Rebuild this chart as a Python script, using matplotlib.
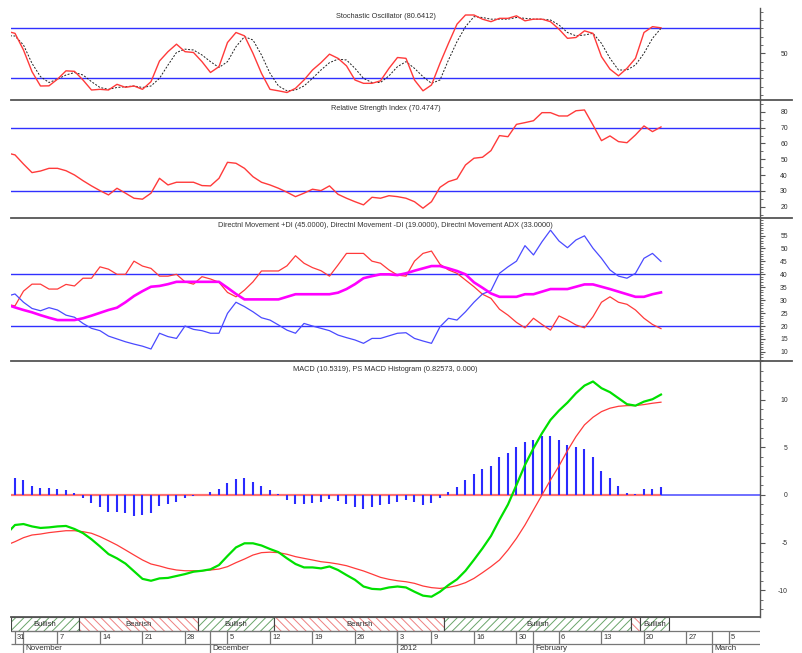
import numpy as np
from matplotlib import pyplot as plt
from matplotlib import rcParams
from matplotlib import font_manager as fontm
from matplotlib import transforms
from matplotlib.lines import Line2D
from matplotlib.patches import Rectangle
from matplotlib.ticker import MultipleLocator, FixedLocator, FuncFormatter

# narrow font looks closest to the original bitmap font
NAMES = {f.name for f in fontm.fontManager.ttflist}
if 'Liberation Sans Narrow' in NAMES:
  FONT, SCALE = 'Liberation Sans Narrow', 1.0
else:
  FONT, SCALE = 'Liberation Sans', 0.82

DARK = '#333333'
GREY = '#555555'
RULE = '#3030ff'
RED = '#ff3a3a'

rcParams.update({
  'font.family': FONT,
  'axes.linewidth': 1.0,
  'axes.edgecolor': GREY,
  'ytick.color': GREY,
  'ytick.labelcolor': DARK,
  'ytick.labelsize': 6 * SCALE,
  'hatch.linewidth': 0.7,
})

# trading-day index, -1 is the session just before the window (Oct 31 = 0)
days = np.arange(-1, 77)
hist_days = days[1:]

stoch_k = [76.6, 74, 54, 28, 10.8, 11, 19, 29, 28.4, 18, 6, 6.8, 6, 12.8, 9.2, 10.8, 6.8,
           16, 40.8, 52, 61, 52, 51, 40, 27, 34, 63, 75, 71, 50, 26, 6.8, 5, 3, 8, 18, 30,
           38.8, 49, 44, 35, 18, 14, 14, 17, 32, 45, 44, 18, 5, 12, 38, 62, 85, 96, 96, 91,
           88, 92, 92, 95, 89, 91, 91, 88, 79, 68, 69, 77, 74, 46, 31, 23, 32, 44, 75, 82, 80.64]
stoch_d = [71.2, 70.8, 60, 38, 22, 15, 19, 24, 27, 24, 16, 9, 6.8, 9, 10, 10.8, 9, 10.8, 20,
           36, 51, 55, 54, 48, 40, 33, 40, 58, 70, 66, 48, 26, 10.8, 5, 6, 10.8, 20, 30, 38.8,
           43, 42, 32, 20, 15, 15, 23, 34, 40, 32, 22, 14, 18, 42, 64, 82, 94, 93, 91, 91, 91,
           93, 92, 91, 91, 90, 84, 75, 71, 72, 74, 62, 44, 30, 30, 36, 50, 68, 80]
rsi = [54.1, 52.8, 47, 41.6, 42.6, 44.3, 44.3, 42.8, 40.1, 36.5, 33.2, 30.2, 27.5, 31.7, 28.6,
       25.4, 24.8, 28.6, 38, 33.8, 35.5, 35.5, 35.5, 33.4, 33.2, 38, 48.1, 47.5, 44.3, 39, 35.5,
       33.8, 31.7, 29.2, 26.4, 28.6, 31.1, 30.2, 33.2, 27.9, 25.4, 23.2, 21.2, 26, 25.4, 27,
       26.4, 25.4, 23.2, 19.1, 23.2, 32.3, 35.9, 37.6, 46.4, 50.7, 51.3, 55.5, 65, 64.3, 72.1,
       73.2, 74.4, 79.5, 79.5, 77.4, 77.4, 80.7, 81.2, 71.7, 61.8, 64.8, 61.2, 60.5, 65.4,
       71.1, 67.5, 70.47]
plus_di = [31.5, 32.4, 29.2, 26.8, 25.9, 27.1, 26.2, 24.2, 23.4, 21, 19.1, 18.2, 16.1, 15, 13.9,
           13, 12.2, 11.1, 17.2, 15.9, 15.2, 20, 18.7, 18.2, 17.2, 17.2, 24.9, 29.2, 27.5, 25.5,
           23.2, 22.3, 20.4, 18.4, 17.2, 21, 20, 19.1, 18.2, 16.5, 15.5, 14.6, 13.3, 15.2, 15.2,
           16.2, 17.2, 17.4, 15.2, 14.2, 13.3, 19.7, 23, 22.3, 25.5, 29.2, 32.4, 33.7, 40.4, 42.9,
           45.1, 51.1, 47.5, 52.6, 57.1, 52.9, 50.3, 53.3, 54.9, 50.1, 46.2, 41.7, 39.3, 38.5,
           40.4, 46.2, 48.1, 45]
minus_di = [28.4, 27.8, 33.5, 36.2, 36.2, 34.3, 34.3, 36.1, 35.5, 38.5, 38.5, 42.9, 42, 40, 40,
            45.1, 43.2, 42.3, 39.3, 39.3, 40, 37.1, 36.2, 39.1, 38.2, 36.9, 33, 31.3, 33.9, 37.1,
            41.3, 41.3, 41.3, 43.3, 47.2, 44.3, 42.6, 41.4, 39.3, 43.6, 48.1, 48.1, 48.1, 45.1,
            44.3, 41.7, 39.7, 39.3, 45.1, 48.1, 49, 43.9, 41.7, 40.4, 37.8, 35.2, 32.3, 30.7,
            26.5, 24.2, 21.4, 19.3, 23, 20.6, 18.4, 23.9, 22.3, 20.4, 19.3, 23.6, 29.2, 31.3,
            29.2, 28.4, 26.2, 23, 20.6, 19]
adx = [28.3, 27.2, 26.2, 25.3, 24.2, 23.2, 22.3, 22.3, 22.3, 23, 24, 25.1, 26.2, 27.1, 29.2,
       31.6, 33.5, 35.2, 35.5, 36.2, 37.1, 37.1, 37.1, 37.1, 37.1, 37.1, 34.8, 32.4, 30.3, 30.3,
       30.3, 30.3, 30.3, 31.3, 32.3, 32.3, 32.3, 32.3, 32.3, 32.9, 34.3, 36.2, 38.5, 39.3, 40,
       40, 39.7, 40.4, 41.4, 42.3, 43.2, 43.2, 42.3, 41.3, 40, 36.9, 34.8, 32.6, 31.3, 31.3,
       31.3, 32.3, 32.3, 33.3, 34.3, 34.3, 34.3, 35.2, 36.1, 36.1, 35.2, 34.3, 33.3, 32.3,
       31.3, 31.3, 32.3, 33]
macd = [-4.1, -3.15, -3.05, -3.3, -3.46, -3.4, -3.3, -3.25, -3.57, -4.0, -4.65, -5.4, -6.2,
        -6.65, -7.2, -8.0, -8.8, -9.0, -8.75, -8.7, -8.5, -8.3, -8.05, -7.95, -7.8, -7.35, -6.4,
        -5.5, -5.07, -5.07, -5.3, -5.67, -6.0, -6.65, -7.24, -7.6, -7.6, -7.7, -7.5, -7.87,
        -8.4, -8.9, -9.6, -9.85, -9.9, -9.7, -9.6, -9.7, -10.15, -10.56, -10.67, -10.15, -9.45,
        -8.85, -7.95, -6.8, -5.6, -4.3, -2.6, -1.0, 1.05, 3.15, 4.9, 6.47, 7.87, 8.85, 9.69,
        10.67, 11.47, 11.9, 11.2, 10.78, 10.15, 9.52, 9.37, 9.79, 10.04, 10.53]
signal = [-5.26, -4.9, -4.48, -4.2, -4.1, -3.95, -3.85, -3.75, -3.75, -3.85, -4.02, -4.37, -4.8,
          -5.25, -5.77, -6.3, -6.82, -7.24, -7.45, -7.7, -7.87, -7.95, -7.95, -7.95, -7.87,
          -7.77, -7.52, -7.1, -6.72, -6.3, -6.05, -6.0, -6.05, -6.22, -6.47, -6.65, -6.82, -7.0,
          -7.1, -7.24, -7.42, -7.7, -7.97, -8.3, -8.64, -8.85, -9.0, -9.1, -9.27, -9.55, -9.72,
          -9.8, -9.7, -9.5, -9.2, -8.75, -8.15, -7.52, -6.82, -5.77, -4.55, -3.15, -1.57, 0.0,
          1.57, 3.04, 4.65, 6.12, 7.35, 8.15, 8.74, 9.1, 9.3, 9.37, 9.37, 9.48, 9.62, 9.73]
hist = [1.75, 1.57, 0.98, 0.7, 0.7, 0.63, 0.52, 0.17, -0.35, -0.8, -1.3, -1.75, -1.8, -1.9, -2.2,
        -2.1, -1.9, -1.15, -0.95, -0.7, -0.35, -0.1, 0.02, 0.28, 0.6, 1.3, 1.68, 1.75, 1.4, 0.94,
        0.52, 0.05, -0.52, -0.98, -0.98, -0.8, -0.77, -0.45, -0.63, -0.94, -1.22, -1.5, -1.22,
        -1.1, -0.94, -0.7, -0.52, -0.7, -1.05, -0.87, -0.35, 0.35, 0.87, 1.57, 2.2, 2.73, 3.08,
        4.02, 4.37, 5.07, 5.6, 5.77, 6.19, 6.19, 5.77, 5.25, 5.07, 4.8, 3.95, 2.55, 1.75, 0.94,
        0.17, 0.1, 0.6, 0.6, 0.83]

# bullish / bearish strip
sig_start = [-0.5, 7.5, 21.5, 30.5, 50.5, 72.5, 73.5]
sig_end = [7.5, 21.5, 30.5, 50.5, 72.5, 73.5, 77]
sig_kind = ['Bullish', 'Bearish', 'Bullish', 'Bearish', 'Bullish', 'Bearish', 'Bullish']

week_idx = [0, 5, 10, 15, 20, 25, 30, 35, 40, 45, 49, 54, 59, 64, 69, 74, 79, 84]
week_lab = ['31', '7', '14', '21', '28', '5', '12', '19', '26', '3', '9', '16', '30',
            '6', '13', '20', '27', '5']
month_idx = [1, 23, 45, 61, 82]
month_lab = ['November', 'December', '2012', 'February', 'March']

TITLES = [
  'Stochastic Oscillator (80.6412)',
  'Relative Strength Index (70.4747)',
  'Directnl Movement +DI (45.0000), Directnl Movement -DI (19.0000), Directnl Movement ADX (33.0000)',
  'MACD (10.5319), PS MACD Histogram (0.82573, 0.000)',
]

# layout in pixels of the 802x653 picture
W, H = 802, 653
X0, X1 = 11, 760
XLIM = (-0.47, 87.65)

fig = plt.figure(figsize=(W / 100, H / 100), dpi=100)
fig.patch.set_facecolor('white')


def box(top, bottom):
  return [X0 / W, 1 - bottom / H, (X1 - X0) / W, (bottom - top) / H]


def panel(top, bottom, ylim, title):
  ax = fig.add_axes(box(top, bottom))
  ax.set_xlim(XLIM)
  ax.set_ylim(ylim)
  ax.set_facecolor('none')
  for side in ('left', 'top', 'bottom'):
    ax.spines[side].set_visible(False)
  ax.set_xticks([])
  ax.yaxis.tick_right()
  ax.tick_params(axis='y', which='major', direction='out', length=3.6, width=0.8, pad=16.4)
  ax.tick_params(axis='y', which='minor', direction='out', length=1.8, width=0.6)
  fig.text((X0 + X1) / 2 / W, 1 - (top + 8) / H, title, ha='center', va='center',
           fontsize=6.5 * SCALE, color=DARK)
  return ax


def right_labels(ax):
  for lab in ax.get_yticklabels():
    lab.set_horizontalalignment('right')


def divider(y, right=792):
  fig.add_artist(Line2D([X0 / W, right / W], [1 - y / H] * 2, transform=fig.transFigure,
                        color=GREY, lw=1.3))


# stochastic
ax1 = panel(8, 100, (-6.0, 104.4), TITLES[0])
ax1.axhline(80, color=RULE, lw=1)
ax1.axhline(20, color=RULE, lw=1)
ax1.plot(days, stoch_d, color='#202020', lw=0.7, dashes=(2, 1.6))
ax1.plot(days, stoch_k, color=RED, lw=1)
ax1.yaxis.set_major_locator(FixedLocator([50]))
ax1.yaxis.set_minor_locator(MultipleLocator(10))
right_labels(ax1)

# rsi
ax2 = panel(100, 218, (12.9, 87.5), TITLES[1])
ax2.axhline(70, color=RULE, lw=1)
ax2.axhline(30, color=RULE, lw=1)
ax2.plot(days, rsi, color=RED, lw=1)
ax2.yaxis.set_major_locator(MultipleLocator(10))
ax2.yaxis.set_minor_locator(MultipleLocator(5))
right_labels(ax2)

# directional movement
ax3 = panel(218, 361, (6.46, 61.8), TITLES[2])
ax3.axhline(40, color=RULE, lw=1)
ax3.axhline(20, color=RULE, lw=1)
ax3.plot(days, minus_di, color=RED, lw=0.9)
ax3.plot(days, plus_di, color='#4a4aff', lw=0.9)
ax3.plot(days, adx, color='#ff00ff', lw=1.9)
ax3.yaxis.set_major_locator(FixedLocator(range(10, 60, 5)))
ax3.yaxis.set_minor_locator(MultipleLocator(1))
right_labels(ax3)

# macd
ax4 = panel(361, 617, (-12.8, 14.05), TITLES[3])
ax4.axhline(0, color='#6f6fff', lw=1.4)
ax4.hlines(0, XLIM[0], hist_days[-1], color='#ff7070', lw=1.6)
ax4.vlines(hist_days, 0, hist, color='#2a2aff', lw=1.5)
ax4.plot(days, signal, color=RED, lw=0.9)
ax4.plot(days, macd, color='#00e000', lw=1.6)
ax4.yaxis.set_major_locator(MultipleLocator(5))
ax4.yaxis.set_minor_locator(MultipleLocator(1))
ax4.yaxis.set_major_formatter(FuncFormatter(lambda v, p: '%d' % v))
right_labels(ax4)

for y in (100, 218, 361):
  divider(y)
divider(617, X1)

# bottom strip and date axis
axb = fig.add_axes(box(617, 653))
axb.set_xlim(XLIM)
axb.set_ylim(0, 36)
axb.axis('off')

for s, e, kind in zip(sig_start, sig_end, sig_kind):
  bull = kind == 'Bullish'
  axb.add_patch(Rectangle((s, 22), e - s, 14, facecolor='white',
                          edgecolor='#6aa56a' if bull else '#ee8080',
                          hatch='////' if bull else '\\\\\\\\', lw=0))
  axb.add_patch(Rectangle((s, 22), e - s, 14, fill=False, edgecolor='#444444', lw=0.8))
  if e - s > 2:
    axb.text((s + e) / 2, 29, kind, ha='center', va='center', fontsize=6.8 * SCALE, color=DARK)

axb.hlines([9, 22], XLIM[0], XLIM[1], color='#777777', lw=0.9)
axb.vlines(week_idx, 9, 22, color='#777777', lw=0.9)
axb.vlines(month_idx, 0, 22, color='#777777', lw=0.9)

shift = transforms.offset_copy(axb.transData, fig=fig, x=2, y=0, units='dots')
for i, lab in zip(week_idx, week_lab):
  axb.text(i, 15.5, lab, transform=shift, ha='left', va='center',
           fontsize=6.6 * SCALE, color=DARK)
for i, lab in zip(month_idx, month_lab):
  axb.text(i, 4, lab, transform=shift, ha='left', va='center',
           fontsize=7 * SCALE, color=DARK)

plt.savefig('out.png', dpi=100, facecolor='white')
